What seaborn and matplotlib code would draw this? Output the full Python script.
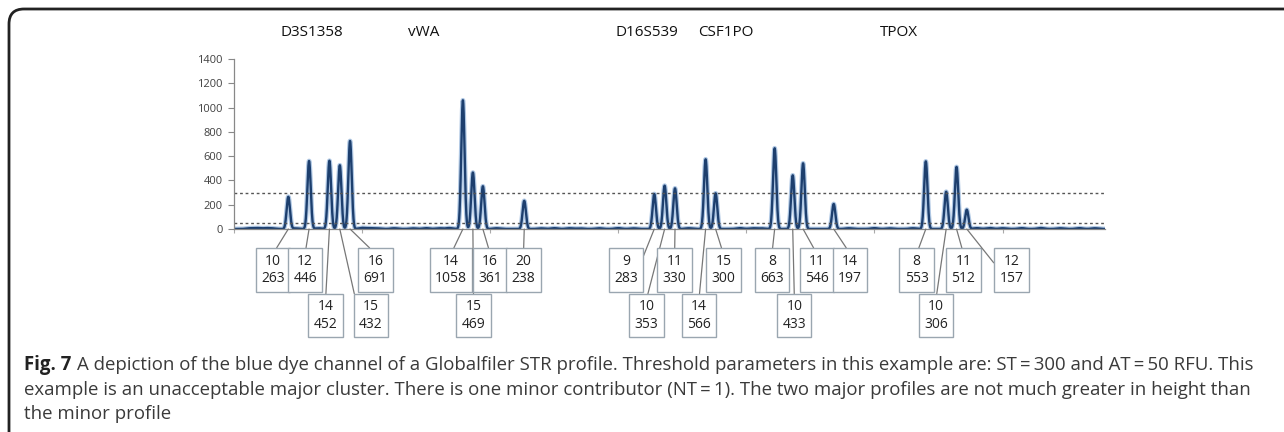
import numpy as np
import pandas as pd
import matplotlib
matplotlib.use('Agg')
import matplotlib.pyplot as plt
from matplotlib.patches import FancyBboxPatch
from matplotlib.transforms import IdentityTransform
import seaborn as sns

# allele peaks (scan position, drawn height in RFU)
alleles = ['10', '12', '14', '15', '16',
           '14', '15', '16', '20',
           '9', '10', '11', '14', '15',
           '8', '10', '11', '14',
           '8', '10', '11', '12']
peak_pos = [42.4, 58.6, 74.5, 82.6, 90.6,
            178.7, 186.5, 194.3, 226.6,
            328.1, 336.2, 344.3, 368.2, 376.0,
            422.1, 436.2, 444.3, 468.2,
            540.1, 556.0, 564.1, 572.1]
peak_rfu = [265, 560, 562, 525, 725,
            1060, 465, 352, 232,
            288, 357, 335, 574, 294,
            665, 442, 541, 206,
            557, 307, 511, 159]
label_rfu = [263, 446, 452, 432, 691,
             1058, 469, 361, 238,
             283, 353, 330, 566, 300,
             663, 433, 546, 197,
             553, 306, 512, 157]

# label box placement (box centre along scan axis, row, side of box the leader meets)
label_x = [30.5, 55.5, 71.5, 107.0, 110.5,
           169.5, 187.0, 200.0, 226.0,
           306.0, 322.0, 344.0, 363.0, 382.0,
           420.0, 437.5, 455.0, 481.0,
           533.0, 548.0, 569.5, 607.0]
label_row = [0, 0, 1, 1, 0,
             0, 1, 0, 0,
             0, 1, 0, 1, 0,
             0, 1, 0, 0,
             0, 1, 0, 0]
label_side = ['top', 'top', 'top', 'left', 'top',
              'top', 'top', 'top', 'top',
              'right', 'top', 'top', 'top', 'top',
              'top', 'top', 'top', 'top',
              'top', 'top', 'top', 'left']

loci = ['D3S1358', 'vWA', 'D16S539', 'CSF1PO', 'TPOX']
locus_x = [61, 148, 322, 384, 519]

# small baseline noise bumps
noise_pos = [12, 18, 25, 30, 48, 66, 100, 106, 112, 125, 140, 150, 160, 168,
             205, 240, 250, 262, 270, 285, 300, 312, 355, 395, 405, 412,
             480, 500, 512, 530, 580, 590, 600, 615, 630, 645, 660, 672]
noise_rfu = [6, 8, 7, 5, 5, 6, 9, 7, 5, 6, 5, 7, 6, 8,
             6, 5, 7, 6, 5, 6, 7, 5, 6, 7, 6, 5,
             6, 7, 5, 6, 7, 8, 6, 7, 8, 6, 7, 6]

stochastic_threshold = 300
analytical_threshold = 50

# build the trace
scan = np.linspace(0, 680, 6801)
rfu = np.zeros_like(scan)
for p, h in zip(peak_pos, peak_rfu):
    rfu += h * np.exp(-0.5 * ((scan - p) / 1.3) ** 2)
for p, h in zip(noise_pos, noise_rfu):
    rfu += h * np.exp(-0.5 * ((scan - p) / 2.5) ** 2)
df = pd.DataFrame({'scan': scan, 'rfu': rfu})

sns.set_theme(style='white')
plt.rcParams['font.family'] = ['Open Sans', 'DejaVu Sans']

fig = plt.figure(figsize=(12.84, 4.32), dpi=100)
ax = fig.add_axes([234 / 1284, 1 - 229 / 432, 871 / 1284, 170 / 432])

# glow + line, like the excel trace
sns.lineplot(data=df, x='scan', y='rfu', ax=ax, color='#8fb1d9', lw=3.4, alpha=0.7)
sns.lineplot(data=df, x='scan', y='rfu', ax=ax, color='#1d3f6e', lw=1.7)

ax.axhline(stochastic_threshold, color='#555555', ls=(0, (2, 2)), lw=1)
ax.axhline(analytical_threshold, color='#555555', ls=(0, (2, 2)), lw=1)

ax.set_xlim(0, 680)
ax.set_ylim(0, 1400)
ax.set_yticks(range(0, 1401, 200))
ax.set_xticks(range(0, 681, 100))
ax.set_xticklabels([])
ax.set_xlabel('')
ax.set_ylabel('')
ax.tick_params(axis='y', labelsize=8, colors='#404040', length=4, width=0.8,
               direction='out', left=True, color='#888888', pad=4)
ax.tick_params(axis='x', length=3, width=0.8, direction='out', bottom=True,
               color='#aaaaaa')
for s in ['top', 'right']:
    ax.spines[s].set_visible(False)
for s in ['left', 'bottom']:
    ax.spines[s].set_color('#888888')
    ax.spines[s].set_linewidth(0.9)

# rows of allele boxes, expressed in RFU below the baseline
row_y = [-338, -715]
relpos = {'top': (0.5, 1.0), 'left': (0.0, 0.5), 'right': (1.0, 0.5)}
for a, p, lab, lx, row, side in zip(alleles, peak_pos, label_rfu, label_x,
                                    label_row, label_side):
    ax.annotate(f'{a}\n{lab}', xy=(p, 0), xytext=(lx, row_y[row]),
                ha='center', va='center', fontsize=10, color='#222222',
                linespacing=1.25, annotation_clip=False,
                bbox=dict(boxstyle='square,pad=0.38', fc='white',
                          ec='#9aa6b0', lw=1),
                arrowprops=dict(arrowstyle='-', color='#777777', lw=0.9,
                                relpos=relpos[side], shrinkA=0, shrinkB=0))

# locus names above the panel
for name, lx in zip(loci, locus_x):
    fx = ax.transData.transform((lx, 0))[0] / fig.bbox.width
    fig.text(fx, 1 - 33 / 432, name, ha='center', va='center',
             fontsize=11, color='#111111')

# frame around the figure panel (pixel coords)
frame = FancyBboxPatch((9, -60), 1400, 432 - 9 + 60,
                       boxstyle='round,pad=0,rounding_size=15',
                       transform=IdentityTransform(), fill=False, ec='#222222',
                       lw=2, clip_on=False)
fig.patches.append(frame)

caption = [
    'A depiction of the blue dye channel of a Globalfiler STR profile. Threshold parameters in this example are: ST\u2009=\u2009300 and AT\u2009=\u200950 RFU. This',
    'example is an unacceptable major cluster. There is one minor contributor (NT\u2009=\u20091). The two major profiles are not much greater in height than',
    'the minor profile',
]
cap_y = [365, 390, 414]
cap_size = 13.4
fig.canvas.draw()
lead = fig.text(24 / 1284, 1 - cap_y[0] / 432, 'Fig. 7', fontsize=cap_size,
                fontweight='bold', color='#222222', va='center', ha='left')
w = lead.get_window_extent(fig.canvas.get_renderer()).x1
fig.text((w + 6) / 1284, 1 - cap_y[0] / 432, caption[0], fontsize=cap_size,
         color='#3a3a3a', va='center', ha='left')
fig.text(24 / 1284, 1 - cap_y[1] / 432, caption[1], fontsize=cap_size,
         color='#3a3a3a', va='center', ha='left')
fig.text(24 / 1284, 1 - cap_y[2] / 432, caption[2], fontsize=cap_size,
         color='#3a3a3a', va='center', ha='left')

fig.savefig('out.png', dpi=100)
